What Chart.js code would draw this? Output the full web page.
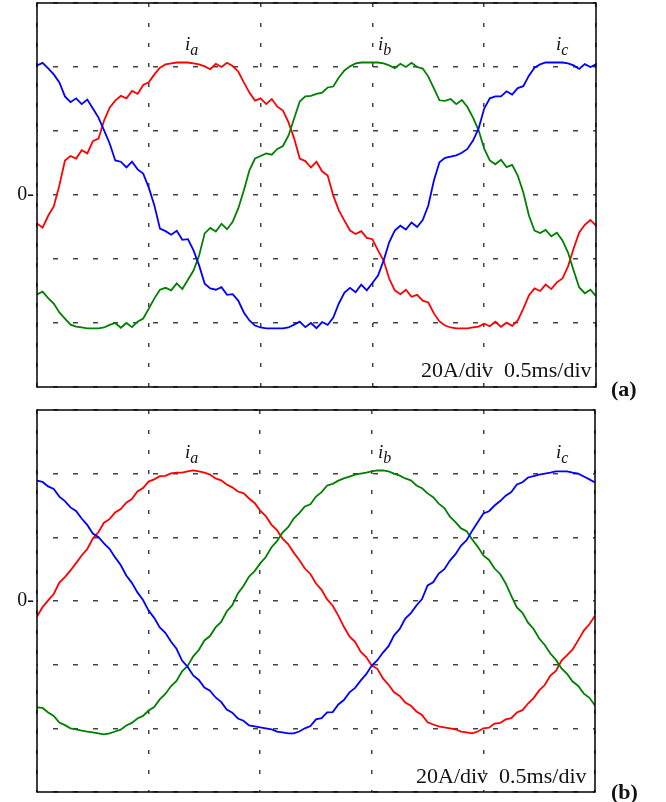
<!DOCTYPE html>
<html><head><meta charset="utf-8">
<script src="https://cdn.jsdelivr.net/npm/chart.js@4.4.1/dist/chart.umd.min.js"></script>
<style>
body{margin:0;background:#fff;width:666px;height:802px;position:relative;overflow:hidden;font-family:"Liberation Serif","Times New Roman",serif;color:#111;}
.wrap{position:absolute;left:0;width:600px;height:392px;}
.lbl{position:absolute;font-style:italic;font-size:19px;line-height:1;white-space:nowrap;}
.lbl sub{font-size:16px;vertical-align:baseline;position:relative;top:5px;margin-left:0px;}
.scale{position:absolute;font-size:22px;white-space:pre;line-height:1;}
.tag{position:absolute;font-weight:bold;font-size:22px;line-height:1;}
</style></head>
<body>
<div class="wrap" style="top:0"><canvas id="ca" width="600" height="392"></canvas></div>
<div class="wrap" style="top:407px"><canvas id="cb" width="600" height="392"></canvas></div>

<div class="lbl" style="left:185px;top:34px">i<sub>a</sub></div>
<div class="lbl" style="left:378px;top:34px">i<sub>b</sub></div>
<div class="lbl" style="left:556px;top:34px">i<sub>c</sub></div>
<div class="scale" style="left:421px;top:359px">20A/div  0.5ms/div</div>
<div class="tag" style="left:611px;top:378px">(a)</div>

<div class="lbl" style="left:185px;top:442px">i<sub>a</sub></div>
<div class="lbl" style="left:378px;top:442px">i<sub>b</sub></div>
<div class="lbl" style="left:556px;top:442px">i<sub>c</sub></div>
<div class="scale" style="left:416px;top:765px">20A/div  0.5ms/div</div>
<div class="tag" style="left:611px;top:781px">(b)</div>

<script>
// Panel (a) phase currents, A (sampled every 0.025 ms over 2.5 ms)
const iaA = [-8.9,-10.2,-6.5,-3.6,3.0,10.8,12.2,11.4,14.0,13.0,16.8,17.6,23.3,27.3,29.5,31.0,30.2,32.5,31.6,34.4,35.2,37.7,39.8,40.8,41.1,41.4,41.4,41.4,41.1,40.8,40.2,39.3,41.0,40.0,41.3,40.3,38.6,35.2,32.0,29.5,30.2,28.4,30.0,27.6,26.4,22.7,17.7,11.4,10.6,8.6,10.4,7.4,6.1,-0.2,-4.8,-8.0,-11.1,-12.2,-11.3,-13.4,-13.8,-17.3,-20.5,-26.1,-29.8,-31.0,-29.6,-31.8,-31.2,-33.0,-33.6,-37.0,-39.5,-40.8,-41.4,-41.7,-41.7,-41.7,-41.4,-41.1,-40.2,-41.0,-39.6,-41.2,-39.9,-40.9,-39.2,-35.5,-31.4,-29.2,-30.0,-28.0,-29.4,-27.3,-26.1,-22.3,-16.7,-11.7,-9.3,-7.8,-9.6];
const ibA = [-31.1,-30.2,-32.2,-33.9,-36.7,-38.6,-40.5,-41.1,-41.4,-41.7,-41.7,-41.7,-41.4,-40.6,-40.0,-41.5,-40.0,-41.3,-39.6,-38.6,-35.5,-32.3,-29.6,-29.0,-29.8,-27.6,-29.4,-26.5,-23.6,-18.9,-12.0,-10.3,-11.4,-9.0,-10.7,-8.4,-4.2,1.4,7.7,11.4,12.2,13.0,12.6,14.4,15.3,18.6,23.9,29.2,30.8,31.0,31.6,32.0,33.6,33.9,36.7,38.9,40.2,41.1,41.4,41.4,41.4,41.4,41.1,40.5,39.6,41.0,40.0,41.3,40.0,39.5,37.0,33.3,29.6,29.4,30.0,28.4,29.7,27.5,24.2,20.2,14.5,10.8,9.6,11.0,8.7,9.4,6.1,0.8,-6.4,-11.1,-11.9,-10.9,-12.9,-11.8,-14.2,-18.0,-23.6,-28.9,-30.7,-29.6,-31.6];
const icA = [40.5,41.3,39.6,37.7,35.2,30.8,29.0,30.2,28.4,29.8,27.0,24.2,20.2,16.1,10.8,10.4,8.6,10.4,8.0,6.7,2.3,-3.3,-10.5,-11.3,-12.4,-11.2,-14.0,-13.8,-17.3,-22.0,-27.7,-29.2,-29.6,-28.8,-31.2,-31.0,-33.0,-36.7,-39.2,-40.8,-41.4,-41.7,-41.7,-41.7,-41.7,-41.4,-40.5,-39.6,-41.3,-40.0,-41.6,-39.7,-40.6,-38.3,-33.9,-30.5,-29.0,-30.4,-28.0,-29.8,-27.5,-25.2,-20.5,-14.8,-11.1,-9.6,-10.8,-8.6,-10.0,-7.8,-3.3,4.5,10.2,11.6,12.0,12.4,13.2,14.4,17.0,20.8,27.0,30.2,30.8,30.8,32.4,31.4,33.4,34.0,37.3,39.8,40.8,41.4,41.4,41.4,41.4,41.1,40.5,39.4,40.9,40.0,40.8];

// Panel (b) phase currents, A
const iaB = [-4.9,-1.9,0.2,2.2,5.8,7.5,9.6,11.9,14.3,16.3,19.6,21.6,24.6,25.7,27.8,28.9,30.9,32.0,34.4,35.5,37.5,38.2,39.2,39.3,40.1,40.3,40.3,40.7,41.0,40.7,40.3,39.7,38.5,37.9,36.6,35.7,34.4,33.9,32.2,30.8,28.4,26.7,24.0,22.3,19.6,17.9,15.2,12.9,10.2,8.5,5.5,3.5,0.5,-1.5,-4.6,-8.1,-11.1,-12.8,-15.9,-17.6,-20.3,-21.3,-24.3,-26.3,-28.7,-29.8,-31.9,-32.9,-34.7,-35.8,-38.1,-38.8,-39.4,-39.7,-40.0,-40.3,-41.0,-41.3,-41.6,-41.0,-40.0,-39.8,-38.5,-38.3,-37.2,-36.8,-35.0,-34.3,-32.2,-30.5,-28.1,-26.4,-23.4,-22.0,-18.7,-17.0,-15.2,-12.3,-9.3,-7.3,-4.6];
const ibB = [-33.4,-33.6,-35.0,-36.1,-38.2,-39.0,-40.0,-40.3,-40.7,-41.0,-41.3,-41.6,-41.9,-41.6,-41.0,-40.4,-39.1,-38.3,-36.9,-36.1,-34.4,-33.3,-30.9,-29.2,-26.8,-25.1,-22.1,-20.4,-17.4,-15.4,-12.4,-11.0,-8.3,-6.6,-3.3,-1.3,2.4,4.7,7.7,9.4,11.8,13.8,16.8,18.8,21.5,23.2,25.9,27.6,29.7,30.4,32.8,34.2,36.3,36.8,37.8,38.5,39.1,39.7,40.0,40.3,40.7,41.0,41.0,40.7,40.0,39.4,38.5,37.9,36.3,35.4,33.8,32.6,30.6,29.2,26.5,24.8,22.8,21.9,19.3,17.0,14.3,12.9,10.2,8.5,5.5,1.6,-2.0,-3.7,-6.8,-8.8,-11.8,-13.8,-16.5,-18.5,-21.2,-22.9,-25.3,-26.7,-29.1,-30.4,-32.8];
const icB = [37.8,37.4,36.0,35.2,32.8,31.4,29.4,28.3,25.9,23.9,21.2,20.1,18.1,16.4,13.7,11.3,8.0,5.7,2.7,0.3,-3.0,-5.3,-8.3,-10.0,-12.7,-15.0,-18.7,-20.7,-23.4,-24.8,-27.2,-28.2,-30.3,-31.7,-34.1,-35.1,-36.9,-37.6,-39.1,-39.4,-39.7,-40.0,-40.3,-41.0,-41.3,-41.6,-41.6,-41.0,-40.0,-39.3,-37.2,-36.8,-35.0,-34.9,-32.5,-31.1,-28.7,-27.3,-25.0,-23.0,-20.3,-18.6,-16.2,-14.2,-10.8,-8.8,-5.5,-3.8,-1.4,0.6,4.9,5.9,8.6,10.0,12.7,14.7,17.4,19.1,22.1,24.8,27.5,28.2,30.0,31.4,33.1,34.2,36.6,37.3,38.8,39.2,39.7,40.0,40.3,40.7,40.7,40.7,40.3,40.0,39.1,38.2,37.2];

const spanMs = 2.5;          // 5 div x 0.5 ms/div
const ampPerDiv = 20;        // 20 A/div
const timeMs = iaA.map((_, i) => i * spanMs / (iaA.length - 1));

const colors = {a:'#ff0000', b:'#008000', c:'#0000ff'};

const framePlugin = {
  id:'frame',
  afterDraw(chart){
    const {ctx, chartArea:a} = chart;
    ctx.save();
    ctx.strokeStyle = '#000';
    ctx.lineWidth = 1.5;
    ctx.strokeRect(a.left, a.top, a.right - a.left, a.bottom - a.top);
    ctx.restore();
  }
};

function makeChart(id, ia, ib, ic, pad){
  const mk = (arr, col) => ({
    data: arr.map((v, i) => ({x: timeMs[i], y: v})),
    borderColor: col, borderWidth: 1.8, pointRadius: 0, tension: 0, fill: false
  });
  return new Chart(document.getElementById(id), {
    type:'line',
    data:{datasets:[mk(ic, colors.c), mk(ib, colors.b), mk(ia, colors.a)]},
    options:{
      animation:false, responsive:false, maintainAspectRatio:false,
      layout:{padding:pad},
      plugins:{legend:{display:false}, tooltip:{enabled:false}},
      scales:{
        x:{type:'linear', min:0, max:spanMs,
           ticks:{display:false, stepSize:0.5},
           grid:{color:'#444', lineWidth:1.5, drawTicks:false},
           border:{display:false, dash:[4,16], dashOffset:0},
           afterFit(s){ s.height = 0; s.paddingLeft = 0; s.paddingRight = 0; }},
        y:{min:-3*ampPerDiv, max:3*ampPerDiv,
           ticks:{stepSize:ampPerDiv, padding:3, color:'#111',
                  font:{family:'Liberation Serif', size:20},
                  callback:v => v === 0 ? '0-' : ''},
           grid:{color:'#444', lineWidth:1.5, drawTicks:false},
           border:{display:false, dash:[5,15], dashOffset:4},
           afterFit(s){ s.width = 37; s.paddingTop = 0; s.paddingBottom = 0; }}
      }
    },
    plugins:[framePlugin]
  });
}

makeChart('ca', iaA, ibA, icA, {top:3, right:4, bottom:5, left:0});
makeChart('cb', iaB, ibB, icB, {top:3, right:5, bottom:7, left:0});
</script>
</body></html>
